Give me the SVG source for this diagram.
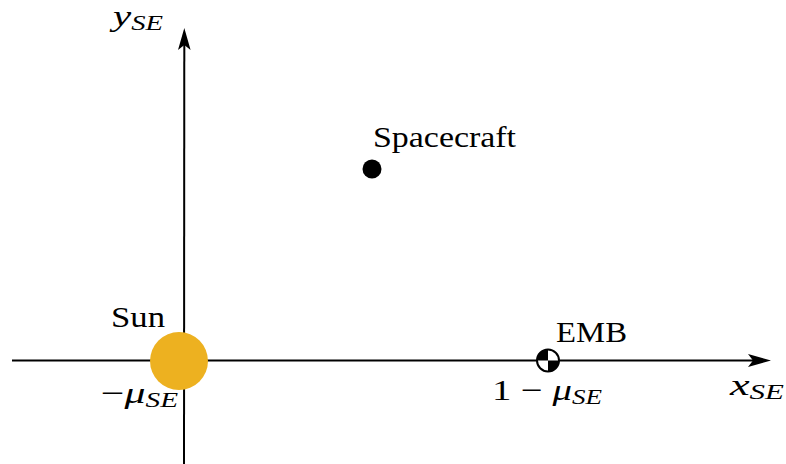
<svg xmlns="http://www.w3.org/2000/svg" width="786" height="464" viewBox="0 0 786 464">
<style>
.t{font-family:"Liberation Serif","DejaVu Serif",serif;font-size:30px;fill:#000}
.m{font-style:italic}
.s{font-size:21px;font-style:italic}
.ax{stroke:#000;stroke-width:2;fill:none}
</style>
<rect width="786" height="464" fill="#fff"/>
<g id="connectors">
<line class="ax" x1="12" y1="360.5" x2="760" y2="360.5"/>
<path d="M771,360.5 L748,354 L753,360.5 L748,367 Z" fill="#000"/>
<line class="ax" x1="184" y1="464" x2="184.3" y2="40"/>
<path d="M184.3,28 L178,50 L184.3,45 L190.6,50 Z" fill="#000"/>
</g>
<g id="sun">
<circle cx="179" cy="361" r="29" fill="#EDB120"/>
<text class="t" x="111" y="327" textLength="54" lengthAdjust="spacingAndGlyphs">Sun</text>
<text class="t" x="101" y="403" textLength="77" lengthAdjust="spacingAndGlyphs">−<tspan class="m">μ</tspan><tspan class="s" dy="4">SE</tspan></text>
</g>
<g id="emb">
<circle cx="548" cy="360.5" r="11" fill="#fff" stroke="#000" stroke-width="2"/>
<path d="M548,360.5 L537,360.5 A11,11 0 0 1 548,349.5 Z" fill="#000"/>
<path d="M548,360.5 L559,360.5 A11,11 0 0 1 548,371.5 Z" fill="#000"/>
<text class="t" x="556" y="342" textLength="71" lengthAdjust="spacingAndGlyphs">EMB</text>
<text class="t" x="492" y="400" textLength="110" lengthAdjust="spacingAndGlyphs">1 − <tspan class="m">μ</tspan><tspan class="s" dy="4">SE</tspan></text>
</g>
<g id="spacecraft">
<circle cx="372" cy="169" r="9.5" fill="#000"/>
<text class="t" x="373" y="147" textLength="143" lengthAdjust="spacingAndGlyphs">Spacecraft</text>
</g>
<g id="x-label">
<text class="t m" x="730" y="395" textLength="54" lengthAdjust="spacingAndGlyphs">x<tspan class="s" dy="4">SE</tspan></text>
</g>
<g id="y-label">
<text class="t m" x="113" y="26" textLength="50" lengthAdjust="spacingAndGlyphs">y<tspan class="s" dy="4">SE</tspan></text>
</g>
</svg>
